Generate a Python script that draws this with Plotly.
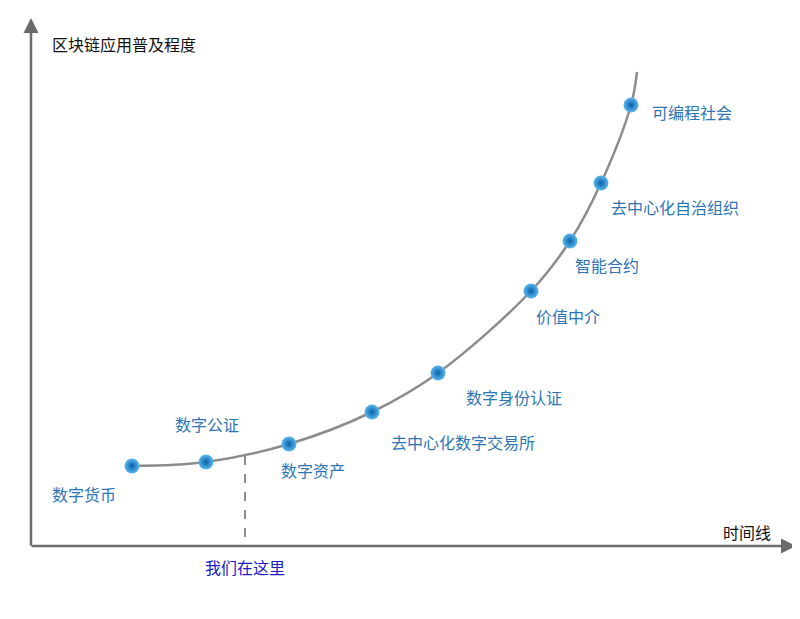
import plotly.graph_objects as go

# 数据(以画面坐标估计)
stage_names = ["数字货币", "数字公证", "数字资产", "去中心化数字交易所", "数字身份认证",
               "价值中介", "智能合约", "去中心化自治组织", "可编程社会"]
stage_x = [132, 206, 289, 372, 438, 531, 570, 601, 631]
stage_y = [466, 462, 444, 412, 373, 291, 241, 183, 105]
label_x = [84, 207, 313, 463, 514, 568, 607, 675, 692]
label_y = [497, 427, 473, 445, 400, 319, 268, 210, 115]
curve_x = [132, 206, 289, 372, 438, 531, 570, 601, 631, 637]
curve_y = [466, 462, 444, 412, 373, 291, 241, 183, 105, 72]
here_x = 245

BLUE = "#2e75b6"
FONT = "Noto Sans CJK SC"

fig = go.Figure()
fig.add_trace(go.Scatter(x=curve_x, y=curve_y, mode="lines",
                         line=dict(color="#8c8c8c", width=2.5, shape="spline", smoothing=1.0),
                         hoverinfo="skip"))
fig.add_trace(go.Scatter(x=[here_x, here_x], y=[456, 546], mode="lines",
                         line=dict(color="#8c8c8c", width=2, dash="dash"), hoverinfo="skip"))
fig.add_trace(go.Scatter(x=stage_x, y=stage_y, mode="markers",
                         marker=dict(size=15, color="#5ab8ee",
                                     gradient=dict(type="radial", color="#0a5fa8"),
                                     line=dict(width=0))))
fig.add_trace(go.Scatter(x=label_x, y=label_y, mode="text", text=stage_names,
                         textfont=dict(color=BLUE, size=16, family=FONT)))

# 坐标轴与箭头
fig.add_annotation(x=31, y=18, ax=31, ay=547, xref="x", yref="y", axref="x", ayref="y",
                   showarrow=True, arrowhead=2, arrowsize=1.2, arrowwidth=2.5, arrowcolor="#6b6b6b", text="")
fig.add_annotation(x=796, y=546, ax=30, ay=546, xref="x", yref="y", axref="x", ayref="y",
                   showarrow=True, arrowhead=2, arrowsize=1.2, arrowwidth=2.5, arrowcolor="#6b6b6b", text="")
fig.add_annotation(x=124, y=44, text="区块链应用普及程度", showarrow=False,
                   font=dict(size=16, color="#111111", family=FONT))
fig.add_annotation(x=747, y=532, text="时间线", showarrow=False,
                   font=dict(size=16, color="#111111", family=FONT))
fig.add_annotation(x=here_x, y=567, text="我们在这里", showarrow=False,
                   font=dict(size=16, color="#1c1cc8", family=FONT))

fig.update_layout(width=800, height=619, margin=dict(l=0, r=0, t=0, b=0),
                  plot_bgcolor="white", paper_bgcolor="white", showlegend=False,
                  xaxis=dict(range=[8, 808], visible=False),
                  yaxis=dict(range=[627, 8], visible=False))
fig.write_html("out.html")
